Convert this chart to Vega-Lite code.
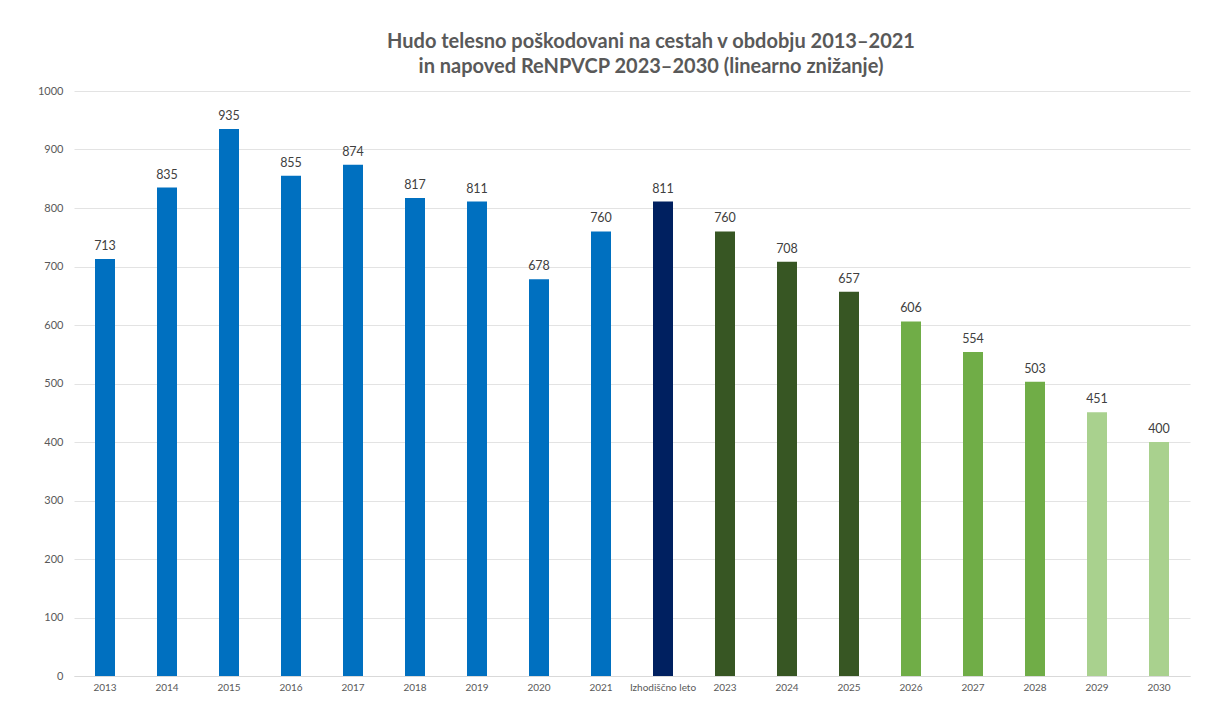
{
  "$schema": "https://vega.github.io/schema/vega-lite/v6.json",
  "autosize": {"type": "none"},
  "width": 1116,
  "height": 585,
  "padding": {"left": 74, "top": 91, "right": 16, "bottom": 35},
  "background": "white",
  "title": {
    "text": ["Hudo telesno poškodovani na cestah  v obdobju 2013–2021", "in napoved ReNPVCP 2023–2030 (linearno znižanje)"],
    "font": "Lato",
    "fontSize": 20,
    "fontWeight": "bold",
    "color": "#595959",
    "anchor": "middle",
    "frame": "group",
    "dx": 19,
    "offset": 8,
    "lineHeight": 25
  },
  "data": {
    "values": [
      {"leto": "2013", "vrednost": 713, "skupina": "dejansko"},
      {"leto": "2014", "vrednost": 835, "skupina": "dejansko"},
      {"leto": "2015", "vrednost": 935, "skupina": "dejansko"},
      {"leto": "2016", "vrednost": 855, "skupina": "dejansko"},
      {"leto": "2017", "vrednost": 874, "skupina": "dejansko"},
      {"leto": "2018", "vrednost": 817, "skupina": "dejansko"},
      {"leto": "2019", "vrednost": 811, "skupina": "dejansko"},
      {"leto": "2020", "vrednost": 678, "skupina": "dejansko"},
      {"leto": "2021", "vrednost": 760, "skupina": "dejansko"},
      {"leto": "Izhodiščno leto", "vrednost": 811, "skupina": "izhodišče"},
      {"leto": "2023", "vrednost": 760, "skupina": "cilj1"},
      {"leto": "2024", "vrednost": 708, "skupina": "cilj1"},
      {"leto": "2025", "vrednost": 657, "skupina": "cilj1"},
      {"leto": "2026", "vrednost": 606, "skupina": "cilj2"},
      {"leto": "2027", "vrednost": 554, "skupina": "cilj2"},
      {"leto": "2028", "vrednost": 503, "skupina": "cilj2"},
      {"leto": "2029", "vrednost": 451, "skupina": "cilj3"},
      {"leto": "2030", "vrednost": 400, "skupina": "cilj3"}
    ]
  },
  "encoding": {
    "x": {
      "field": "leto",
      "type": "nominal",
      "sort": null,
      "title": null,
      "scale": {"paddingInner": 0.68, "paddingOuter": 0.34},
      "axis": {
        "labelAngle": 0,
        "labelFont": "Lato",
        "labelFontSize": 10,
        "labelColor": "#595959",
        "labelPadding": 6,
        "ticks": false,
        "domain": true,
        "domainColor": "#D9D9D9",
        "domainWidth": 1
      }
    },
    "y": {
      "field": "vrednost",
      "type": "quantitative",
      "title": null,
      "scale": {"domain": [0, 1000], "nice": false},
      "axis": {
        "values": [0, 100, 200, 300, 400, 500, 600, 700, 800, 900, 1000],
        "format": "d",
        "labelFont": "Lato",
        "labelFontSize": 11,
        "labelColor": "#595959",
        "labelPadding": 11,
        "ticks": false,
        "domain": false,
        "grid": true,
        "gridColor": "#E3E3E3",
        "gridWidth": 1
      }
    }
  },
  "layer": [
    {
      "mark": {"type": "bar", "size": 20},
      "encoding": {
        "color": {
          "field": "skupina",
          "type": "nominal",
          "legend": null,
          "scale": {
            "domain": ["dejansko", "izhodišče", "cilj1", "cilj2", "cilj3"],
            "range": ["#0070C0", "#002060", "#375623", "#70AD47", "#A9D18E"]
          }
        }
      }
    },
    {
      "mark": {
        "type": "text",
        "baseline": "bottom",
        "dy": -6,
        "font": "Lato",
        "fontSize": 12.5,
        "color": "#404040"
      },
      "encoding": {
        "text": {"field": "vrednost", "type": "quantitative"}
      }
    }
  ],
  "config": {
    "view": {"stroke": null}
  }
}
